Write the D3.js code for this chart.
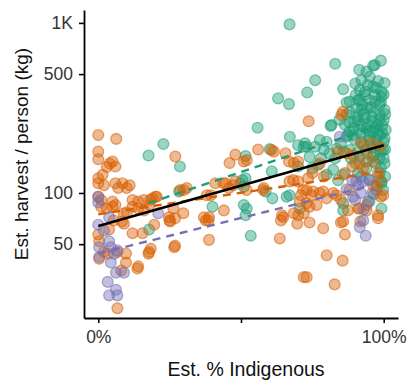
<!DOCTYPE html>
<html><head><meta charset="utf-8">
<script src="https://cdn.jsdelivr.net/npm/d3@7"></script>
<style>body{margin:0;background:#fff}svg{display:block}</style>
</head><body><svg id="c" width="409" height="381"></svg>
<script>
// ---- data: [est. % indigenous, est. harvest per person (kg)] ----
const groupColors = ["#1b9e77", "#d95f02", "#7570b3"];

const greenPts = [
[67,980],[83,575],[99,600],[91.4,530],[96.3,560],[76,460],[73.2,390],[63,360],[66.8,333],[55.8,242],
[67.1,214],[81.4,248],[85.8,408],[22.8,194],[17.6,166],[70,191],[73,187],[60.1,181],[51.6,165],[94,517],
[96.9,566],[100.3,443],[92.2,462],[95.1,483],[88.1,345],[91,352],[87,340],[91.6,404],[96.3,422],[99.2,368],
[81.7,251],[89.9,262],
[28.6,143],[28.3,102],[17.8,61],[60.8,134],[50.5,119],[51.6,122],[51,109],[58.6,102],[61,93],[66,95],
[67,97],[40,83],[51,85],[52,81],[51.6,74],[53.4,56],[49.7,114],[70,143],[77,146],[70.6,81],[85.8,87],
[95,89],[99.2,117],[99.2,81],
[72.4,196],[76,187],[77.6,205],[81,171],[83.5,182],[87,214],[89,219],[92,224],[95,230],[98,224],
[100.3,210],[99.8,179],[100.3,149],[98.6,131],[99.2,114],[99.8,104],[94,153],[91.6,163],[96,163],[91,131],
[86.4,131],[82.3,137],[84,119],[85.8,79],[74,163],[72,187],
[91.6,352],[93.4,377],[95.1,352],[96.9,377],[98.6,330],[92.3,308],[94.4,316],[96.5,299],[98.6,288],[100.3,308],
[90.9,268],[93.4,276],[95.8,262],[97.9,251],[100,268],[91.6,235],[94.1,241],[96.2,228],[98.6,219],[100.7,235],
[89.9,205],[92.3,200],[95.1,205],[97.6,191],[100,200],[88.1,179],[90.9,174],[93.7,179],[96.5,167],[99,174],
[86.4,251],[88.1,299],[87.4,219],[89.5,241],[97.2,415],[94.4,431],[99.3,393],[90.2,377],
[92.5,330],[95.5,320],[97,345],[99,340],[93,290],[96,280],[98.5,270],[91,285],[94.5,255],[97,240],
[99.5,250],[92,250],[95,215],[97.5,205],[99.5,225],[93,190],[96,185],[98.5,160],[90,150],[94,140],
[97,150],[99,140],[92,125],[95,120],[97.5,110],[88.5,160],[85,195],[86,175],[83,160],[80,200],
[79,180],[88,230],[90.5,315],[93.5,395],[98,455],[90,440],[87,290],[84.5,270],[88,260],[100,380],
[100.5,290],[100.5,180],[100,160],[100.5,125],[96.5,98],[80,128],[75,140],[78,160]
];

const orangePts = [
[0,219],[6.3,208],[0,175],[0,158],[4,149],[5,153],[3,142],[6,143],[0,122],[1.5,128],[0,114],[2,111],
[6,114],[8.5,114],[7,107],[10,107],[11,111],[0,95],[1,91],[1,83],[3,81],[5,83],[6,85],[5,89],[12,91],
[14,89],[16,91],[19,93],[20,95],[18,85],[14,81],[16,79],[12,83],[10,77],[8.9,76],[5.4,69],[8.3,68],
[3.8,61],[9,66],[12,58],[15.5,58],[19.6,65],[25,69],[0.3,52],[2,45],[6.7,45],[9.7,44],[9.7,39],[8,35],
[13.7,36],[17.8,45],[18.4,47],[26.6,48],[6.7,21],[0.3,41],[3.3,44],[0,57],
[27,164],[30,104],[20.5,95],[18.2,91],[26.3,81],[26.9,71],[29.8,76],[24.8,72],[26.9,49],[31,107],[28.7,104],
[14,37],[17.6,44],[25.2,68],
[48,168],[46,150],[51,153],[56,180],[61.5,175],[65.6,171],[66.8,153],[68.5,150],[70,153],[41,114],
[44.6,114],[45.8,107],[48,117],[58,107],[67,117],[70,117],[71,97],[39.4,97],[44,79],[38.8,72],[37,72],
[37.7,69],[64.4,74],[68.5,76],[38.8,53],[63.6,54],[72,32],[69.7,66],[64,69],[60.7,179],[52,156],[38,97],
[38.6,69],[64.8,72],[70,74],[74,67],[78.8,62],[80,43],[85.6,40],[73,32],[82.8,29],[85.8,68],[86.4,57],
[91.8,68],[98,71],[99.8,97],[91.6,81],[94,79],[82.3,100],[78.8,102],[75.3,102],[70.6,89],[74,83],[68.3,119],
[71.8,104],[57.8,104],[52,104],[43.8,114],[47.3,111],[85,67],
[73.7,264],[85.2,288],[85.7,300],
[73.5,122],[75,131],[79,125],[73,104],[74.7,97],[77.6,100],[80,93],[83.4,97],[85,91],[73,87],[76.5,85],
[72,76],[87.5,79],[91,81],[98,74],[97.4,104],[98,131],[94,85],[89,143],[92.8,140],[77.6,149],[87,171],
[92,196],[95.7,196],[98.6,187],[99,95],[88,104],
[91.6,149],[96.3,153],[94,171],[89.3,167],[84,175],[85.8,128],[98.6,119],[96.3,111]
];

const purplePts = [
[0,95],[0,88],[3.8,72],[21,76],[0,65],[2,60],[0.3,48],[3.8,52],[4.4,48],[5.6,44],[0.3,42],[4.4,39],
[6.2,34],[9,34],[3.3,30],[6.2,27],[3.8,25],[6.7,25],[6.7,46],
[84.6,214],[89,119],[91,111],[92.8,117],[95,119],[92,100],[94.5,89],[90,91],[91.6,63],[93.7,56],
[89.3,95],[90.4,117],[87,105],[96,100],[93,80],[92.8,69]
];

// fitted trend lines (endpoints)
const fitAll    = [[0,64],[100,191]];
const fitGreen  = [[17.6,87],[100,255]];
const fitOrange = [[0,75],[100,134]];
const fitPurple = [[0,44],[95,110]];

const yTicks = [50,100,500,1000];
const yTickLabels = ["50","100","500","1K"];
const xTicks = [0,50,100];
const xTickLabels = ["0%","","100%"];
const xTitle = "Est. % Indigenous";
const yTitle = "Est. harvest / person (kg)";

// ---- drawing ----
const FONT = "'Liberation Sans', Arial, Helvetica, sans-serif";
const svg = d3.select("#c");
const x = d3.scaleLinear().domain([-5,105]).range([84,398]);
const y = d3.scaleLog().domain([18.4,1191]).range([318,10]);

const pts = svg.append("g");
[[greenPts,0],[orangePts,1],[purplePts,2]].forEach(([arr,gi])=>{
  pts.selectAll(null).data(arr).enter().append("circle")
    .attr("cx", d=>x(d[0])).attr("cy", d=>y(d[1])).attr("r", 5.4)
    .attr("fill", groupColors[gi]).attr("fill-opacity", 0.44)
    .attr("stroke", groupColors[gi]).attr("stroke-opacity", 0.55).attr("stroke-width", 1.3);
});

const line = d3.line().x(d=>x(d[0])).y(d=>y(d[1]));
[[fitGreen,0],[fitOrange,1],[fitPurple,2]].forEach(([f,gi])=>{
  svg.append("path").attr("d", line(f)).attr("fill","none")
    .attr("stroke", groupColors[gi]).attr("stroke-width", 2.4).attr("stroke-dasharray","8,6");
});
svg.append("path").attr("d", line(fitAll)).attr("fill","none").attr("stroke","#000").attr("stroke-width",2.6);

const yAxis = svg.append("g").attr("transform","translate(84,0)")
  .call(d3.axisLeft(y).tickValues(yTicks).tickFormat((d,i)=>yTickLabels[i]).tickSize(5).tickSizeOuter(0).tickPadding(6));
const xAxis = svg.append("g").attr("transform","translate(0,318)")
  .call(d3.axisBottom(x).tickValues(xTicks).tickFormat((d,i)=>xTickLabels[i]).tickSize(5).tickSizeOuter(0).tickPadding(8));
[yAxis,xAxis].forEach(a=>{
  a.select(".domain").attr("stroke","#000").attr("stroke-width",1.8);
  a.selectAll(".tick line").attr("stroke","#000").attr("stroke-width",1.6);
  a.selectAll(".tick text").attr("fill","#333").style("font-family",FONT).style("font-size","17.5px");
});

svg.append("text").attr("x",246).attr("y",376).attr("text-anchor","middle")
  .style("font-family",FONT).style("font-size","19.5px").attr("fill","#111").text(xTitle);
svg.append("text").attr("transform","translate(28,154) rotate(-90)").attr("text-anchor","middle")
  .style("font-family",FONT).style("font-size","19px").attr("fill","#111").text(yTitle);
</script>
</body></html>
